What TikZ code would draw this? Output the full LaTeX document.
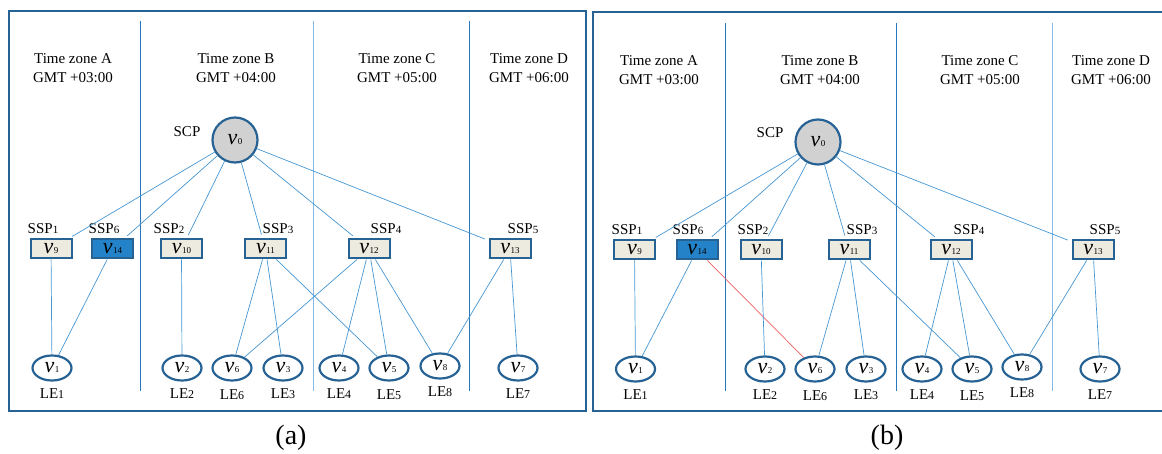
\documentclass[tikz,border=0pt]{standalone}
\usepackage{fontspec}
\setmainfont{Liberation Serif}
\usetikzlibrary{shapes.geometric}
\definecolor{nodeblue}{RGB}{38,98,148}
\definecolor{zonedark}{RGB}{40,120,190}
\definecolor{zonelight}{RGB}{135,185,228}
\definecolor{linkblue}{RGB}{70,150,210}
\definecolor{boxfill}{RGB}{237,234,223}
\definecolor{selfill}{RGB}{35,130,200}
\definecolor{linkred}{RGB}{232,95,95}
\newcommand{\vname}[1]{\textit{v}\kern0.5pt{\fontsize{9}{9}\selectfont #1}}
\newcommand{\sspname}[1]{SSP{\fontsize{11}{11}\selectfont #1}}
\newcommand{\lename}[1]{LE{\fontsize{12}{12}\selectfont #1}}
\tikzset{
  frame/.style={draw=nodeblue, line width=2.3pt},
  zone/.style={draw=zonedark, line width=1pt},
  zonepale/.style={draw=zonelight, line width=1pt},
  zonetext/.style={align=center, inner sep=0pt, font=\fontsize{15}{19}\selectfont},
  lbl/.style={inner sep=0pt, font=\fontsize{15}{17}\selectfont},
  vnode/.style={inner sep=0pt, draw=nodeblue, font=\fontsize{22}{22}\selectfont},
  scp/.style={vnode, circle, fill=black!18, line width=2.2pt, minimum size=45pt},
  ssp/.style={vnode, rectangle, fill=boxfill, line width=2pt, minimum width=41pt, minimum height=19pt},
  sspsel/.style={ssp, fill=selfill},
  le/.style={vnode, ellipse, line width=2.2pt, minimum width=39pt, minimum height=25pt},
  link/.style={draw=linkblue, line width=0.7pt},
  caption/.style={inner sep=0pt, font=\fontsize{28}{28}\selectfont}
}
\begin{document}
\begin{tikzpicture}[x=1pt, y=-1pt]
  \useasboundingbox (0,0) rectangle (1162,454);

  % (a) frame and time zones
  \draw[frame] (9,11) rectangle (586,411);
  \draw[zone] (140,21) -- (140,391);
  \draw[zonepale] (313,21) -- (313,391);
  \draw[zone] (469,21) -- (469,391);
  \node[zonetext] (azA) at (73,68.5) {Time zone A\\GMT +03:00};
  \node[zonetext] (azB) at (236,68.5) {Time zone B\\GMT +04:00};
  \node[zonetext] (azC) at (397,68.5) {Time zone C\\GMT +05:00};
  \node[zonetext] (azD) at (529,68.5) {Time zone D\\GMT +06:00};

  \node[scp] (a0) at (235,140) {\vname{0}};
  \node[lbl] (ascp) at (187,132) {SCP};
  \node[ssp] (a9) at (51,249) {\vname{9}};
  \node[sspsel] (a14) at (112.5,249) {\vname{14}};
  \node[ssp] (a10) at (181.5,249) {\vname{10}};
  \node[ssp] (a11) at (265.5,249) {\vname{11}};
  \node[ssp] (a12) at (369,249) {\vname{12}};
  \node[ssp] (a13) at (510,249) {\vname{13}};
  \node[lbl] (assp1) at (43,229) {\sspname{1}};
  \node[lbl] (assp6) at (104,229) {\sspname{6}};
  \node[lbl] (assp2) at (169,229) {\sspname{2}};
  \node[lbl] (assp3) at (278,229) {\sspname{3}};
  \node[lbl] (assp4) at (386,229) {\sspname{4}};
  \node[lbl] (assp5) at (523,229) {\sspname{5}};
  \node[le] (a1) at (52,368) {\vname{1}};
  \node[le] (a2) at (182,368) {\vname{2}};
  \node[le] (a6) at (232,368) {\vname{6}};
  \node[le] (a3) at (283,368) {\vname{3}};
  \node[le] (a4) at (339,368) {\vname{4}};
  \node[le] (a5) at (389,368) {\vname{5}};
  \node[le] (a8) at (440,366) {\vname{8}};
  \node[le] (a7) at (518,368) {\vname{7}};
  \node[lbl] (ale1) at (52,394) {\lename{1}};
  \node[lbl] (ale2) at (182,394) {\lename{2}};
  \node[lbl] (ale6) at (232,395) {\lename{6}};
  \node[lbl] (ale3) at (283,394) {\lename{3}};
  \node[lbl] (ale4) at (339,394) {\lename{4}};
  \node[lbl] (ale5) at (389,395) {\lename{5}};
  \node[lbl] (ale8) at (440,392) {\lename{8}};
  \node[lbl] (ale7) at (518,394) {\lename{7}};
  \begin{scope}[link]
    \draw[shorten >=4pt] (a0) to (a9);
    \draw[shorten >=4pt] (a0) to (a14);
    \draw[shorten >=4pt] (a0) to (a10);
    \draw[shorten >=4pt] (a0) to (a11);
    \draw[shorten >=4pt] (a0) to (a12);
    \draw[shorten >=4pt] (a0) to (a13);
    \draw (a9) to (a1);
    \draw (a14) to (a1);
    \draw (a10) to (a2);
    \draw (a11) to (a6);
    \draw (a11) to (a3);
    \draw (a11) to (a5);
    \draw (a12) to (a6);
    \draw (a12) to (a4);
    \draw (a12) to (a5);
    \draw (a12) to (a8);
    \draw (a13) to (a8);
    \draw (a13) to (a7);
  \end{scope}
  \node[caption] (capa) at (291,438) {(a)};

  % (b) frame and time zones
  \draw[frame] (1162,12) -- (593,12) -- (593,411) -- (1162,411);
  \draw[zone] (725,23) -- (725,391);
  \draw[zone] (896,23) -- (896,391);
  \draw[zonepale] (1052,23) -- (1052,391);
  \node[zonetext] (bzA) at (659,70.5) {Time zone A\\GMT +03:00};
  \node[zonetext] (bzB) at (820,70.5) {Time zone B\\GMT +04:00};
  \node[zonetext] (bzC) at (980,70.5) {Time zone C\\GMT +05:00};
  \node[zonetext] (bzD) at (1111,70.5) {Time zone D\\GMT +06:00};

  \node[scp] (b0) at (818,142) {\vname{0}};
  \node[lbl] (bscp) at (770,133) {SCP};
  \node[ssp] (b9) at (634.5,250) {\vname{9}};
  \node[sspsel] (b14) at (697,250) {\vname{14}};
  \node[ssp] (b10) at (761,250) {\vname{10}};
  \node[ssp] (b11) at (849,250) {\vname{11}};
  \node[ssp] (b12) at (951,250) {\vname{12}};
  \node[ssp] (b13) at (1093,250) {\vname{13}};
  \node[lbl] (bssp1) at (627,230) {\sspname{1}};
  \node[lbl] (bssp6) at (688,230) {\sspname{6}};
  \node[lbl] (bssp2) at (753,230) {\sspname{2}};
  \node[lbl] (bssp3) at (862,230) {\sspname{3}};
  \node[lbl] (bssp4) at (969,230) {\sspname{4}};
  \node[lbl] (bssp5) at (1105,230) {\sspname{5}};
  \node[le] (b1) at (635.5,369) {\vname{1}};
  \node[le] (b2) at (765,369) {\vname{2}};
  \node[le] (b6) at (815,369) {\vname{6}};
  \node[le] (b3) at (866,369) {\vname{3}};
  \node[le] (b4) at (922,369) {\vname{4}};
  \node[le] (b5) at (972,369) {\vname{5}};
  \node[le] (b8) at (1022,367) {\vname{8}};
  \node[le] (b7) at (1100,369) {\vname{7}};
  \node[lbl] (ble1) at (635.5,395) {\lename{1}};
  \node[lbl] (ble2) at (765,395) {\lename{2}};
  \node[lbl] (ble6) at (815,396) {\lename{6}};
  \node[lbl] (ble3) at (866,395) {\lename{3}};
  \node[lbl] (ble4) at (922,395) {\lename{4}};
  \node[lbl] (ble5) at (972,396) {\lename{5}};
  \node[lbl] (ble8) at (1022,393) {\lename{8}};
  \node[lbl] (ble7) at (1100,395) {\lename{7}};
  \begin{scope}[link]
    \draw[shorten >=4pt] (b0) to (b9);
    \draw[shorten >=4pt] (b0) to (b14);
    \draw[shorten >=4pt] (b0) to (b10);
    \draw[shorten >=4pt] (b0) to (b11);
    \draw[shorten >=4pt] (b0) to (b12);
    \draw[shorten >=4pt] (b0) to (b13);
    \draw (b9) to (b1);
    \draw (b14) to (b1);
    \draw[draw=linkred] (b14) to (b6);
    \draw (b10) to (b2);
    \draw (b11) to (b6);
    \draw (b11) to (b3);
    \draw (b11) to (b5);
    \draw (b12) to (b4);
    \draw (b12) to (b5);
    \draw (b12) to (b8);
    \draw (b13) to (b8);
    \draw (b13) to (b7);
  \end{scope}
  \node[caption] (capb) at (887,438) {(b)};
\end{tikzpicture}
\end{document}
